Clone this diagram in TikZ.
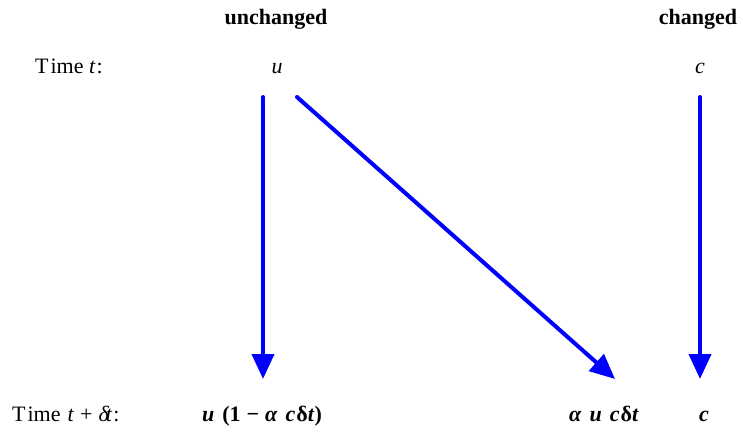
\documentclass[tikz,border=0pt]{standalone}
\usepackage{fontspec}
\setmainfont{Liberation Serif}
\usetikzlibrary{arrows.meta}
\definecolor{arrowblue}{RGB}{0,0,255}
\tikzset{
  lbl/.style={font=\fontsize{22}{24}\selectfont, inner sep=0pt},
  head/.style={font=\fontsize{22}{24}\selectfont\bfseries, inner sep=0pt},
  formula/.style={font=\fontsize{22}{24}\selectfont\bfseries, inner sep=0pt},
  flow/.style={draw=arrowblue, line width=4pt, line cap=round,
    -{Triangle[length=25pt,width=22pt]}}
}
\begin{document}
\begin{tikzpicture}[x=1pt,y=-1pt]
\useasboundingbox (0,0) rectangle (743,432);
\node[head, anchor=base] (hu) at (276,24) {unchanged};
\node[head, anchor=base] (hc) at (698,24) {changed};
\node[lbl, anchor=base west] (t0) at (35,73) {T\kern2pt ime \textit{t}\kern1pt:};
\node[lbl, anchor=base] (u) at (277,73) {\textit{u}};
\node[lbl, anchor=base] (c) at (700,73) {\textit{c}};
\node[lbl, anchor=base west] (t1) at (12,421) {T\kern2pt ime\kern7pt\textit{t}\kern6pt+\kern6pt\textit{δ\kern-3pt t}\kern1pt:};
\node[formula, anchor=base] (b1) at (262,421) {\textit{u}\kern8pt (1\kern6pt −\kern6pt \textit{α}\kern8pt \textit{c}\kern1ptδ\textit{t})};
\node[formula, anchor=base] (b2) at (604,421) {\textit{α}\kern8pt \textit{u}\kern8pt \textit{c}\kern1ptδ\textit{t}};
\node[formula, anchor=base] (b3) at (704,421) {\textit{c}};
\coordinate (s1) at (263,97);
\coordinate (e1) at (263,379);
\coordinate (s2) at (297,97);
\coordinate (e2) at (615,379);
\coordinate (s3) at (700,97);
\coordinate (e3) at (700,379);
\draw[flow] (s1) -- (e1);
\draw[flow] (s2) -- (e2);
\draw[flow] (s3) -- (e3);
\end{tikzpicture}
\end{document}
